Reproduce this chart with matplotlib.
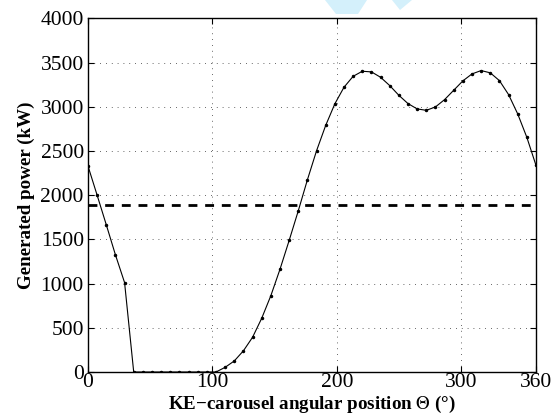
import numpy as np
import matplotlib
matplotlib.use('Agg')
import matplotlib.pyplot as plt
from matplotlib.patches import Polygon

# angular positions of the samples (deg)
theta = [0.0, 7.35, 14.69, 22.04, 29.39, 36.73, 44.08, 51.43, 58.78, 66.12,
         73.47, 80.82, 88.16, 95.51, 102.86, 110.20, 117.55, 124.90, 132.24, 139.59,
         146.94, 154.29, 161.63, 168.98, 176.33, 183.67, 191.02, 198.37, 205.71, 213.06,
         220.41, 227.76, 235.10, 242.45, 249.80, 257.14, 264.49, 271.84, 279.18, 286.53,
         293.88, 301.22, 308.57, 315.92, 323.27, 330.61, 337.96, 345.31, 352.65, 360.0]

# generated power (kW)
power = [2330, 2000, 1666, 1326, 1012, 0, 0, 0, 0, 0,
         0, 0, 0, 0, 0, 53, 125, 240, 393, 608,
         864, 1163, 1488, 1824, 2176, 2504, 2791, 3035, 3222, 3346,
         3403, 3396, 3335, 3241, 3131, 3037, 2977, 2961, 2999, 3082,
         3188, 3294, 3373, 3411, 3385, 3297, 3139, 2920, 2655, 2338]

mean_power = 1889
mean_span = [0, 360]

xticks = [0, 100, 200, 300, 360]
yticks = [0, 500, 1000, 1500, 2000, 2500, 3000, 3500, 4000]

plt.rcParams['font.family'] = ['Liberation Serif', 'DejaVu Serif']
plt.rcParams['mathtext.fontset'] = 'stix'

fig = plt.figure(figsize=(5.52, 4.18), dpi=100)
ax = fig.add_axes([88 / 552, 46 / 418, 448 / 552, 353.5 / 418])

# faint watermark at the top of the page
fig.patches.append(Polygon([[325 / 552, 1.0], [367 / 552, 1.0], [358 / 552, 1 - 14 / 418],
                            [336 / 552, 1 - 14 / 418]], closed=True,
                           transform=fig.transFigure, facecolor='#d4f0fb', edgecolor='none'))
fig.patches.append(Polygon([[392 / 552, 1.0], [412 / 552, 1.0], [400 / 552, 1 - 10 / 418]],
                           closed=True, transform=fig.transFigure,
                           facecolor='#d4f0fb', edgecolor='none'))

ax.plot(theta, power, 'k-', lw=0.8, marker='.', markersize=3, zorder=3)
ax.plot(mean_span, [mean_power, mean_power], 'k--', lw=2.0, dashes=(3.2, 2.8), zorder=3)

ax.set_xlim(0, 360)
ax.set_ylim(0, 4000)
ax.set_xticks(xticks)
ax.set_yticks(yticks)
ax.tick_params(direction='in', length=4, width=0.8, top=True, right=True,
               labelsize=15.5)
ax.tick_params(axis='x', pad=1)
ax.tick_params(axis='y', pad=3)
ax.grid(True, color='k', lw=0.6, linestyle=(0, (1, 6)), alpha=0.8)
for s in ax.spines.values():
    s.set_linewidth(1.0)

ax.set_xlabel('KE\u2212carousel angular position $\\Theta$ (\u00b0)', fontsize=13.7,
              fontweight='bold', labelpad=1)
ax.set_ylabel('Generated power (kW)', fontsize=13.7, fontweight='bold', labelpad=4)

fig.savefig('out.png', dpi=100)
